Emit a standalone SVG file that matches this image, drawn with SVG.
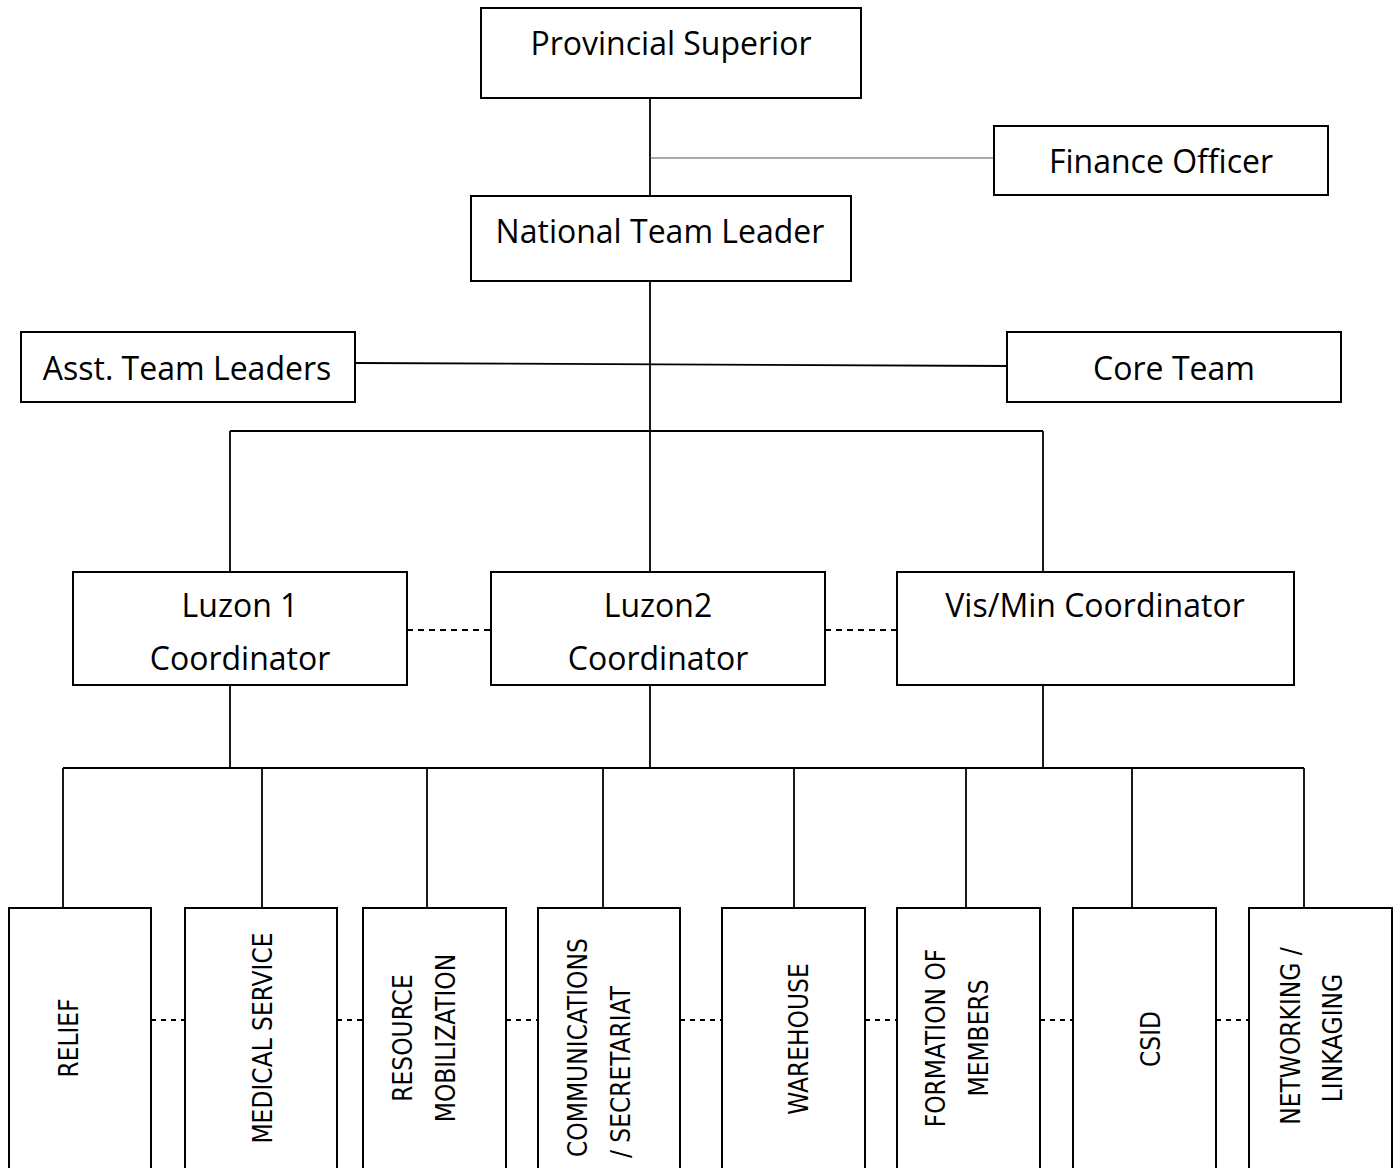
<svg xmlns="http://www.w3.org/2000/svg" width="1400" height="1168" viewBox="0 0 1400 1168">
  <style>
    .box { fill: #ffffff; stroke: #000000; stroke-width: 2; }
    .line { fill: none; stroke: #000000; stroke-width: 1.8; }
    .thin { fill: none; stroke: #555555; stroke-width: 1.2; }
    .dash { fill: none; stroke: #000000; stroke-width: 1.8; stroke-dasharray: 6 5; }
    .dash-s { fill: none; stroke: #000000; stroke-width: 1.8; stroke-dasharray: 5 5; }
    .label { font-family: "Open Sans", "Liberation Sans", sans-serif; font-size: 32px; fill: #000000; text-anchor: middle; }
    .vlabel { font-family: "DejaVu Sans Condensed", "DejaVu Sans", sans-serif; font-stretch: condensed; font-size: 26px; fill: #000000; text-anchor: middle; }
    .vstart { text-anchor: start; }
  </style>
  <rect width="1400" height="1168" fill="#ffffff"/>

  <!-- connectors -->
  <g id="connectors">
    <path class="line" d="M650 98 V196"/>
    <path class="thin" d="M650 158 H994"/>
    <path class="line" d="M650 281 V572"/>
    <path class="line" d="M355 363 L1007 366"/>
    <path class="line" d="M230 431 H1043"/>
    <path class="line" d="M230 431 V572"/>
    <path class="line" d="M1043 431 V572"/>
    <path class="dash" d="M407 630 H491"/>
    <path class="dash" d="M825 630 H897"/>
    <path class="line" d="M230 685 V768"/>
    <path class="line" d="M650 685 V768"/>
    <path class="line" d="M1043 685 V768"/>
    <path class="line" d="M63 768 H1304"/>
    <path class="line" d="M63 768 V908"/>
    <path class="line" d="M262 768 V908"/>
    <path class="line" d="M427 768 V908"/>
    <path class="line" d="M603 768 V908"/>
    <path class="line" d="M794 768 V908"/>
    <path class="line" d="M966 768 V908"/>
    <path class="line" d="M1132 768 V908"/>
    <path class="line" d="M1304 768 V908"/>
    <path class="dash-s" d="M151 1020 H185"/>
    <path class="dash-s" d="M337 1020 H363"/>
    <path class="dash-s" d="M506 1020 H538"/>
    <path class="dash-s" d="M680 1020 H722"/>
    <path class="dash-s" d="M865 1020 H897"/>
    <path class="dash-s" d="M1040 1020 H1073"/>
    <path class="dash-s" d="M1216 1020 H1249"/>
  </g>

  <!-- leadership -->
  <g id="provincial-superior">
    <rect class="box" x="481" y="8" width="380" height="90"/>
    <text class="label" x="671" y="55">Provincial Superior</text>
  </g>
  <g id="finance-officer">
    <rect class="box" x="994" y="126" width="334" height="69"/>
    <text class="label" x="1161" y="173">Finance Officer</text>
  </g>
  <g id="national-team-leader">
    <rect class="box" x="471" y="196" width="380" height="85"/>
    <text class="label" x="660" y="243">National Team Leader</text>
  </g>
  <g id="asst-team-leaders">
    <rect class="box" x="21" y="332" width="334" height="70"/>
    <text class="label" x="187" y="380">Asst. Team Leaders</text>
  </g>
  <g id="core-team">
    <rect class="box" x="1007" y="332" width="334" height="70"/>
    <text class="label" x="1174" y="380">Core Team</text>
  </g>

  <!-- regional coordinators -->
  <g id="luzon1">
    <rect class="box" x="73" y="572" width="334" height="113"/>
    <text class="label" x="240" y="617">Luzon 1</text>
    <text class="label" x="240" y="670">Coordinator</text>
  </g>
  <g id="luzon2">
    <rect class="box" x="491" y="572" width="334" height="113"/>
    <text class="label" x="658" y="617">Luzon2</text>
    <text class="label" x="658" y="670">Coordinator</text>
  </g>
  <g id="vismin">
    <rect class="box" x="897" y="572" width="397" height="113"/>
    <text class="label" x="1095" y="617">Vis/Min Coordinator</text>
  </g>

  <!-- ministries -->
  <g id="relief">
    <rect class="box" x="9" y="908" width="142" height="280"/>
    <text class="vlabel" transform="translate(78 1038) rotate(-90)">RELIEF</text>
  </g>
  <g id="medical-service">
    <rect class="box" x="185" y="908" width="152" height="280"/>
    <text class="vlabel" transform="translate(272 1038) rotate(-90)">MEDICAL SERVICE</text>
  </g>
  <g id="resource-mobilization">
    <rect class="box" x="363" y="908" width="143" height="280"/>
    <text class="vlabel" transform="translate(412 1038) rotate(-90)">RESOURCE</text>
    <text class="vlabel" transform="translate(455 1038) rotate(-90)">MOBILIZATION</text>
  </g>
  <g id="communications">
    <rect class="box" x="538" y="908" width="142" height="280"/>
    <text class="vlabel vstart" transform="translate(587 1157) rotate(-90)">COMMUNICATIONS</text>
    <text class="vlabel vstart" transform="translate(630 1158) rotate(-90)">/ SECRETARIAT</text>
  </g>
  <g id="warehouse">
    <rect class="box" x="722" y="908" width="143" height="280"/>
    <text class="vlabel" transform="translate(808 1039) rotate(-90)">WAREHOUSE</text>
  </g>
  <g id="formation">
    <rect class="box" x="897" y="908" width="143" height="280"/>
    <text class="vlabel" transform="translate(945 1038) rotate(-90)">FORMATION OF</text>
    <text class="vlabel" transform="translate(988 1038) rotate(-90)">MEMBERS</text>
  </g>
  <g id="csid">
    <rect class="box" x="1073" y="908" width="143" height="280"/>
    <text class="vlabel" transform="translate(1160 1039) rotate(-90)">CSID</text>
  </g>
  <g id="networking">
    <rect class="box" x="1249" y="908" width="143" height="280"/>
    <text class="vlabel" transform="translate(1300 1036) rotate(-90)">NETWORKING /</text>
    <text class="vlabel" transform="translate(1342 1038) rotate(-90)">LINKAGING</text>
  </g>
</svg>
